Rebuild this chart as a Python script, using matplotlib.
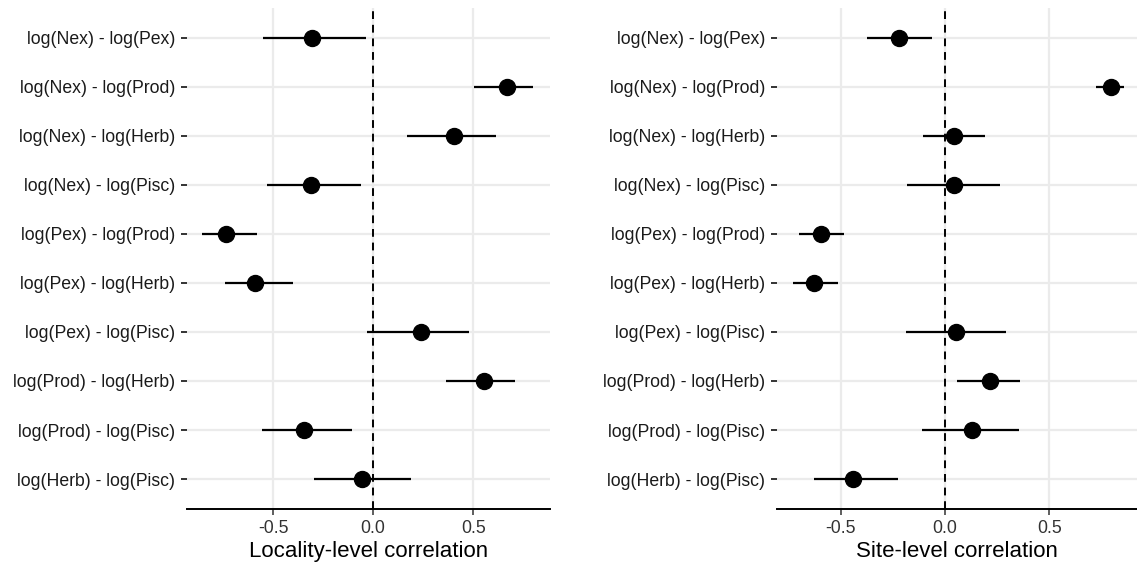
import numpy as np
import matplotlib.pyplot as plt

pairs = ['log(Nex) - log(Pex)', 'log(Nex) - log(Prod)', 'log(Nex) - log(Herb)',
         'log(Nex) - log(Pisc)', 'log(Pex) - log(Prod)', 'log(Pex) - log(Herb)',
         'log(Pex) - log(Pisc)', 'log(Prod) - log(Herb)', 'log(Prod) - log(Pisc)',
         'log(Herb) - log(Pisc)']

# locality-level correlation: estimate and interval
loc_est = [-0.304, 0.670, 0.404, -0.309, -0.738, -0.589, 0.241, 0.554, -0.348, -0.055]
loc_lo = [-0.550, 0.502, 0.168, -0.529, -0.854, -0.743, -0.030, 0.363, -0.557, -0.296]
loc_hi = [-0.034, 0.800, 0.614, -0.059, -0.582, -0.400, 0.477, 0.711, -0.107, 0.191]

# site-level correlation
site_est = [-0.220, 0.796, 0.043, 0.041, -0.595, -0.629, 0.053, 0.215, 0.128, -0.441]
site_lo = [-0.373, 0.722, -0.107, -0.181, -0.697, -0.727, -0.189, 0.055, -0.111, -0.629]
site_hi = [-0.061, 0.857, 0.193, 0.261, -0.484, -0.513, 0.290, 0.361, 0.356, -0.225]

plt.rcParams['font.family'] = ['Liberation Sans', 'DejaVu Sans']

W, H = 1137, 569
fig = plt.figure(figsize=(W / 100, H / 100), dpi=100)

panels = [
    (loc_est, loc_lo, loc_hi, 'Locality-level correlation', (186.7, 550), (-0.932, 0.884)),
    (site_est, site_lo, site_hi, 'Site-level correlation', (776.7, 1137), (-0.806, 0.919)),
]

top_px, bot_px = 8.3, 508.5
n = len(pairs)
y = np.arange(n)[::-1]

for est, lo, hi, xlabel, (x0, x1), xlim in panels:
    ax = fig.add_axes([x0 / W, 1 - bot_px / H, (x1 - x0) / W, (bot_px - top_px) / H])
    ax.set_xlim(*xlim)
    ax.set_ylim(-0.6, n - 1 + 0.6)
    ax.set_axisbelow(True)
    ax.grid(True, color='#EBEBEB', linewidth=1.6)
    for s in ['top', 'right', 'left']:
        ax.spines[s].set_visible(False)
    ax.spines['bottom'].set_linewidth(1.4)
    ax.spines['bottom'].set_color('black')
    ax.axvline(0, color='black', linestyle=(0, (4, 3)), linewidth=1.4, zorder=2)
    ax.hlines(y, lo, hi, color='black', linewidth=1.6, zorder=3)
    ax.plot(est, y, 'o', color='black', markersize=11.5, zorder=4)
    ax.set_yticks(y)
    ax.set_yticklabels(pairs)
    ax.set_xticks([-0.5, 0.0, 0.5])
    ax.set_xticklabels(['-0.5', '0.0', '0.5'])
    ax.tick_params(axis='y', length=4, width=1.4, color='#333333', labelsize=12.7,
                   labelcolor='#1a1a1a', pad=4.2)
    ax.tick_params(axis='x', length=4, width=1.1, color='#333333', labelsize=12.7,
                   labelcolor='#333333', pad=4.5)
    ax.set_xlabel(xlabel, fontsize=16, labelpad=3)

fig.savefig('out.png', dpi=100)
